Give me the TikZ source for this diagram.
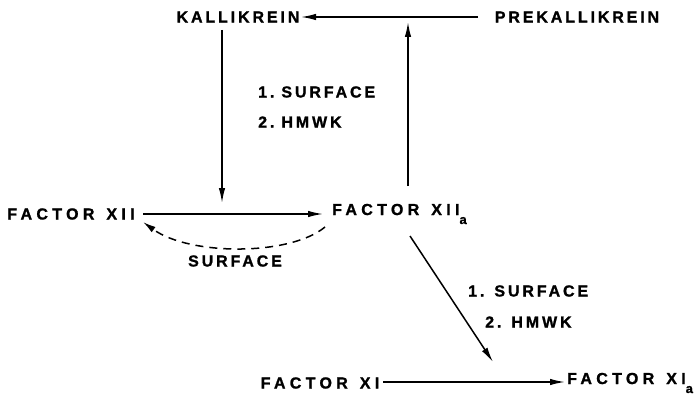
\documentclass[tikz,border=0pt]{standalone}
\usepackage{fontspec}
\setmainfont{Liberation Sans}[LetterSpace=18,FakeBold=1.2]
\usetikzlibrary{arrows.meta}
\newcommand{\subA}{\raisebox{-9pt}{\fontsize{13}{13}\selectfont\addfontfeature{LetterSpace=0}a}}
\newcommand{\wgap}{\hspace{12pt}}
\tikzset{
  lbl/.style={inner sep=0pt, font=\fontsize{16}{19}\selectfont\bfseries},
  flbl/.style={lbl, font=\fontsize{16}{19}\selectfont\bfseries\addfontfeature{LetterSpace=27}},
  arr/.style={line width=1.5pt, -{Latex[length=15pt,width=6.5pt]}},
  darr/.style={line width=1.5pt, dash pattern=on 8pt off 6pt, -{Latex[length=13pt,width=6.5pt]}}
}
\begin{document}
\begin{tikzpicture}[x=1pt,y=-1pt]
\useasboundingbox[fill=white] (0,0) rectangle (700,417);
% nodes
\node[lbl] (kal) at (238,17) {KALLIKREIN};
\node[lbl] (prek) at (577,17) {PREKALLIKREIN};
\node[flbl] (f12) at (71,214) {FACTOR\wgap XII};
\node[flbl,anchor=west] (f12a) at (332,214) {FACTOR\wgap XII\subA};
\node[flbl] (f11) at (320,383) {FACTOR\wgap XI};
\node[flbl,anchor=west] (f11a) at (567,383) {FACTOR\wgap XI\subA};
\node[lbl,anchor=west] (s1) at (258,92) {1.\hspace{7pt}SURFACE};
\node[lbl,anchor=west] (h1) at (258,122) {2.\hspace{7pt}HMWK};
\node[lbl,anchor=west] (s2) at (468,291) {1.\hspace{10pt}SURFACE};
\node[lbl,anchor=west] (h2) at (485,322) {2.\hspace{10pt}HMWK};
\node[lbl] (surf) at (235,261) {SURFACE};
% connector points
\coordinate (kdown) at (222,30);
\coordinate (mid12) at (222,203);
\coordinate (upstart) at (408,186);
\coordinate (uptip) at (408,22);
\coordinate (diagstart) at (410,236);
\coordinate (diagtip) at (493,362);
\coordinate (topR) at (478,17);
\coordinate (topL) at (301,17);
\coordinate (m1) at (143,214);
\coordinate (m2) at (323,214);
\coordinate (b1) at (383,382);
\coordinate (b2) at (565,382);
\coordinate (dR) at (325,227);
\coordinate (dL) at (143,222);
% connectors
\draw[arr] (topR) -- (topL);
\draw[arr] (kdown) -- (mid12);
\draw[arr] (upstart) -- (uptip);
\draw[arr] (m1) -- (m2);
\draw[darr] (dR) .. controls (290,256) and (190,256) .. (dL);
\draw[arr] (diagstart) -- (diagtip);
\draw[arr] (b1) -- (b2);
\end{tikzpicture}
\end{document}
